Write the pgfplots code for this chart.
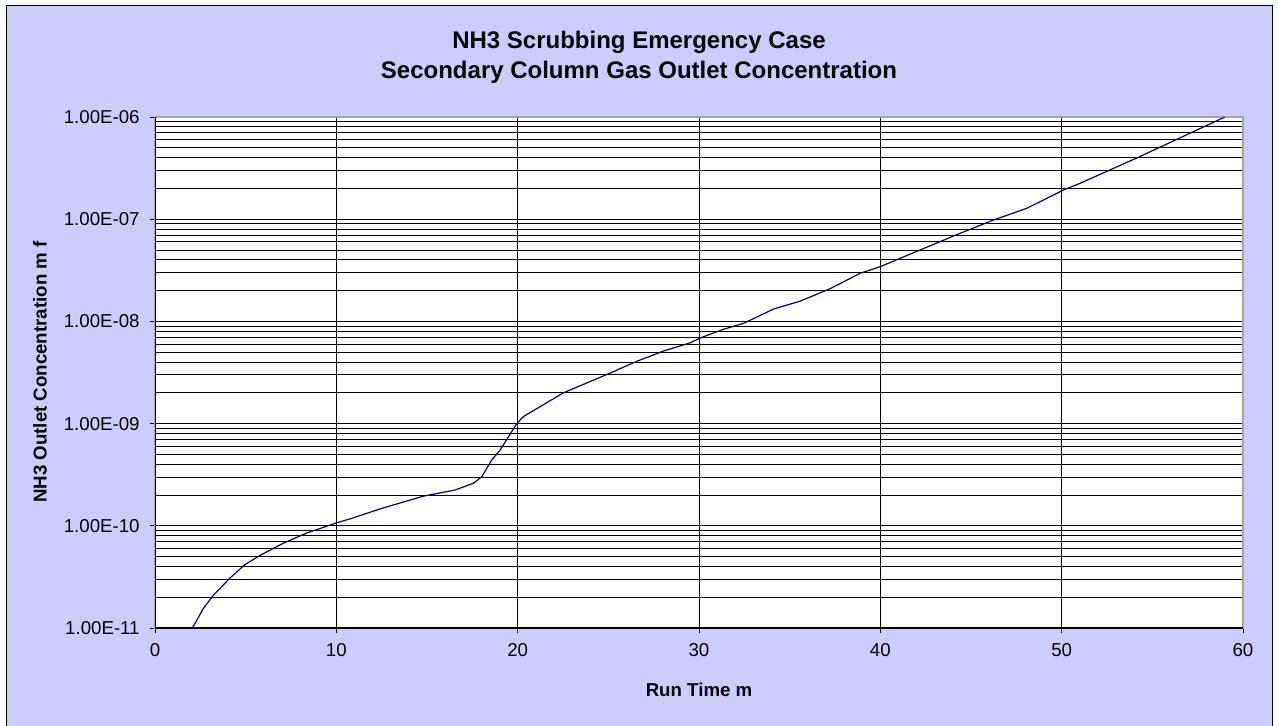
\documentclass[border=0pt]{standalone}
\usepackage{pgfplots}
\pgfplotsset{compat=1.18}
\usepackage{fontspec}
\setmainfont{Liberation Sans}
\definecolor{bgl}{RGB}{204,204,255}
\definecolor{navy}{RGB}{0,0,128}
\begin{document}
\begin{tikzpicture}[x=0.75pt,y=0.75pt]
\useasboundingbox (0,0) rectangle (1278,725);
\fill[white] (0,0) rectangle (1278,725);
\filldraw[fill=bgl,draw=black,line width=1.2pt] (6.5,-5) rectangle (1272.5,719.5);
\node[font=\bfseries\fontsize{18}{21}\selectfont] at (639,683) {NH3 Scrubbing Emergency Case};
\node[font=\bfseries\fontsize{18}{21}\selectfont] at (639,653) {Secondary Column Gas Outlet Concentration};
\node[font=\bfseries\fontsize{14}{16}\selectfont] at (699,35) {Run Time m};
\node[font=\bfseries\fontsize{14}{16}\selectfont,rotate=90] at (40,353) {NH3 Outlet Concentration m f};
\begin{axis}[
  at={(116.25pt,72.75pt)}, anchor=south west,
  scale only axis, width=816pt, height=383.25pt,
  xmin=0, xmax=60, ymode=log, ymin=1e-11, ymax=1e-6,
  axis background/.style={fill=white},
  xtick={0,10,...,60},
  xticklabels={0,10,20,30,40,50,60},
  ytick={1e-11,1e-10,1e-9,1e-8,1e-7,1e-6},
  yticklabels={1.00E-11,1.00E-10,1.00E-09,1.00E-08,1.00E-07,1.00E-06},
  xtick pos=bottom, ytick pos=left, tick align=outside,
  major tick length=4pt, minor tick length=0pt,
  tick style={black, line width=0.7pt},
  minor x tick num=0,
  xmajorgrids, ymajorgrids, yminorgrids,
  major grid style={black, line width=0.7pt},
  minor grid style={black, line width=0.7pt},
  axis line style={gray!70, line width=0.8pt},
  ticklabel style={font=\fontsize{14}{16}\selectfont},
  xticklabel style={yshift=-4pt},
  yticklabel style={xshift=-4pt},
  clip=true,
]
\addplot[navy, line width=0.9pt] coordinates {
(2.0,1.0e-11) (2.11,1.03e-11) (2.66,1.55e-11) (3.22,2.09e-11) (4.14,3.09e-11)
(4.96,4.17e-11) (5.79,5.13e-11) (7.08,6.76e-11) (8.37,8.51e-11) (10.02,1.07e-10)
(10.76,1.17e-10) (12.5,1.48e-10) (14.8,1.95e-10) (16.55,2.24e-10) (17.56,2.61e-10)
(18.02,3.02e-10) (18.57,4.41e-10) (19.03,5.50e-10) (19.95,1.0e-9) (20.31,1.17e-9)
(22.52,2.0e-9) (24.91,3.02e-9) (26.57,4.07e-9) (28.04,5.13e-9) (29.51,6.17e-9)
(30.15,6.98e-9) (31.35,8.38e-9) (32.45,9.55e-9) (34.1,1.32e-8) (35.58,1.58e-8)
(37.23,2.09e-8) (38.89,2.96e-8) (39.99,3.43e-8) (42.2,5.01e-8) (44.4,7.28e-8)
(46.24,9.82e-8) (48.08,1.28e-7) (50.1,1.93e-7) (51.0,2.24e-7) (54.15,3.98e-7)
(56.5,6.22e-7) (59.0,1.0e-6)
};
\draw[black, line width=0.8pt] (rel axis cs:0,1) -- (rel axis cs:0,0) -- (rel axis cs:1,0);
\end{axis}
\end{tikzpicture}
\end{document}
